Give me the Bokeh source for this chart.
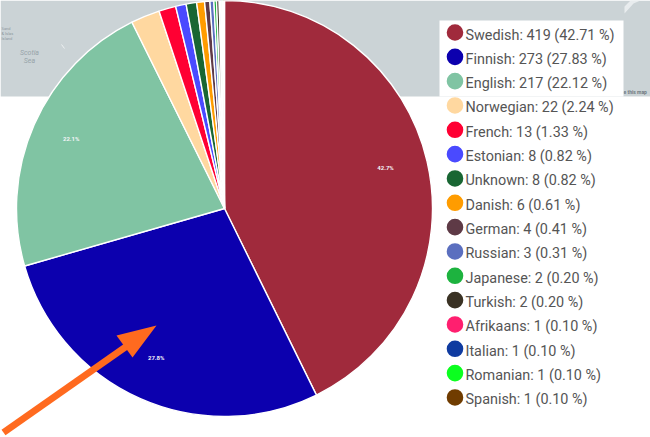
from math import pi, cos, sin
from bokeh.plotting import figure
from bokeh.models import ColumnDataSource, Range1d
from bokeh.core.properties import value
from bokeh.embed import file_html
from bokeh.resources import INLINE

languages = ["Swedish","Finnish","English","Norwegian","French","Estonian","Unknown","Danish",
             "German","Russian","Japanese","Turkish","Afrikaans","Italian","Romanian","Spanish"]
counts = [419,273,217,22,13,8,8,6,4,3,2,2,1,1,1,1]
colors = ["#A02A3C","#0C00AE","#80C4A3","#FFD8A0","#FF0033","#4A4AFF","#196633","#FF9C00",
          "#5E3A46","#5B6FBF","#1DB33F","#3A3224","#FF1F6F","#0F3BA0","#0BFF1F","#703C00"]
W, H = 650, 437
CX, CY, R = 224, 208, 208
def Y(y): return H - y

total = sum(counts)
starts, ends, a = [], [], pi/2
for c in counts:
    starts.append(a); a -= 2*pi*c/total; ends.append(a)

p = figure(width=W, height=H, x_range=Range1d(0,W), y_range=Range1d(0,H), output_backend="svg",
           toolbar_location=None, min_border=0, outline_line_color=None, background_fill_color="white",
           border_fill_color="white")
p.xaxis.visible = False; p.yaxis.visible = False; p.grid.visible = False

# map backdrop
p.quad(left=0, right=W, bottom=Y(96), top=Y(0), fill_color="#CBD3D6", line_color=None)
p.patch([624,633,640,640,630,624],[Y(13),Y(3),Y(0),Y(0),Y(0),Y(6)], fill_color="#E8ECEE", line_color=None)
p.line([61,64],[Y(44),Y(48)], line_color="#EEF1F2", line_width=1)
p.text([29,29],[Y(52),Y(60)], text=["Scotia","Sea"], text_font_size="7px", text_font=value("Roboto"),
       text_color="#97A3A9", text_align="center", text_baseline="middle", text_font_style="italic")
p.text([1,1,1],[Y(28),Y(33),Y(38)], text=["Sand","& Islas","Island"], text_font_size="4px", text_font=value("Roboto"),
       text_color="#8E999F", text_baseline="middle")
p.text([623],[Y(91)], text=["e this map"], text_font_size="5px", text_font=value("Roboto"), text_font_style="bold",
       text_color="#6F7A80", text_baseline="middle")

# pie
src = ColumnDataSource(dict(start=starts, end=ends, color=colors))
p.wedge(x=CX, y=Y(CY), radius=R, start_angle="end", end_angle="start", fill_color="color",
        line_color="white", line_width=1.4, source=src)

# percentage labels
pct_x, pct_y, pct_t = [], [], []
for i in range(3):
    m = (starts[i]+ends[i])/2
    pct_x.append(CX + 0.8*R*cos(m) - 1); pct_y.append(Y(CY) + 0.8*R*sin(m) + 3)
    pct_t.append(f"{100*counts[i]/total:.1f}%")
p.text(pct_x, pct_y, text=pct_t, text_font_size="6px", text_font=value("Roboto"), text_font_style="bold",
       text_color="#F4F4F8", text_align="center", text_baseline="middle")

# legend
p.quad(left=439, right=623, bottom=Y(96), top=Y(20), fill_color="white", line_color=None)
rows = [Y(32 + 24.33*i) for i in range(len(languages))]
p.scatter([454.5]*len(rows), rows, size=16.6, fill_color=colors, line_color=None)
labels = [f"{l}: {c} ({100*c/total:.2f} %)" for l, c in zip(languages, counts)]
p.text([465]*len(rows), [r-2.5 for r in rows], text=labels, text_font_size="14.4px", text_font=value("Roboto"),
       text_color="#555555", text_baseline="middle")

# arrow
p.line([3,130],[Y(432),Y(343)], line_color="#FF6A1F", line_width=7)
p.patch([156,116,132],[Y(325),Y(335),Y(357)], fill_color="#FF6A1F", line_color=None)

open("out.html","w").write(file_html(p, INLINE))
